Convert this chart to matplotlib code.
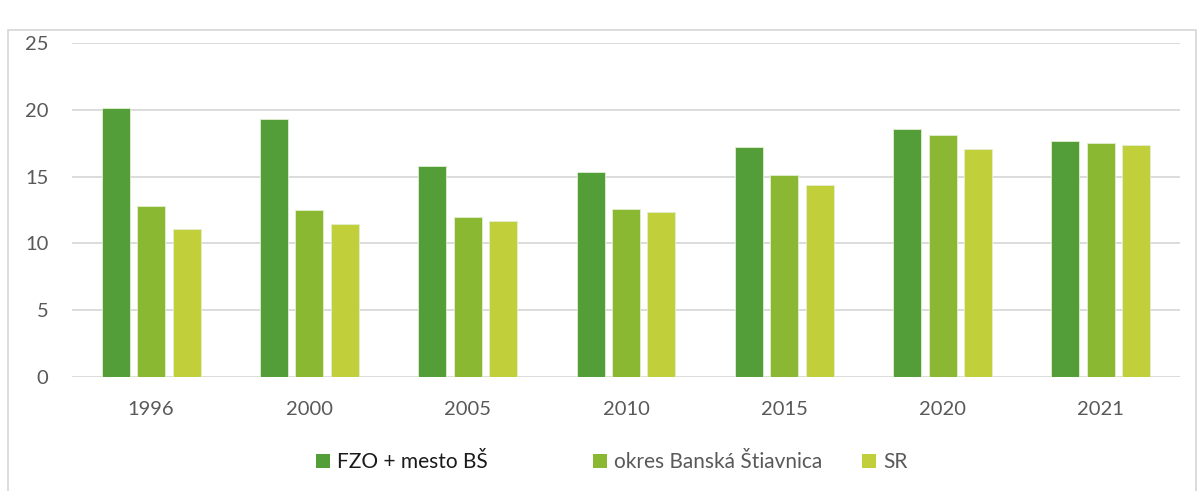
import matplotlib
matplotlib.use("Agg")
import matplotlib.pyplot as plt
from matplotlib.patches import Patch, Rectangle
import numpy as np

plt.rcParams['font.family'] = ['Lato', 'DejaVu Sans']

years = ["1996", "2000", "2005", "2010", "2015", "2020", "2021"]
series_names = ["FZO + mesto BŠ", "okres Banská Štiavnica", "SR"]
fzo = [20.1, 19.3, 15.8, 15.35, 17.2, 18.6, 17.65]
okres = [12.8, 12.5, 11.95, 12.6, 15.1, 18.1, 17.55]
sr = [11.05, 11.45, 11.7, 12.35, 14.4, 17.05, 17.35]
yticks = [0, 5, 10, 15, 20, 25]

colors = ["#549E39", "#8AB833", "#C0CF3A"]
text_gray = "#595959"

W, H = 1198, 491
fig = plt.figure(figsize=(W / 100, H / 100), dpi=100)
ax = fig.add_axes([72 / W, 1 - 377 / H, (1180 - 72) / W, (377 - 43) / H])

x = np.arange(len(years))
bw = 0.177
step = 0.224
for i, (vals, c) in enumerate(zip([fzo, okres, sr], colors)):
    ax.bar(x + (i - 1) * step, vals, width=bw, color=c, edgecolor="#E2EFD0",
           linewidth=0.6, zorder=3, label=series_names[i])

ax.set_xlim(-0.5, len(years) - 0.5)
ax.set_ylim(0, 25)
ax.set_yticks(yticks)
ax.set_xticks(x)
ax.set_xticklabels(years)
ax.yaxis.grid(True, color="#D9D9D9", linewidth=1.3, zorder=0)
ax.set_axisbelow(True)
for s in ax.spines.values():
    s.set_visible(False)
ax.tick_params(axis="both", length=0, labelsize=14.5, colors=text_gray)
ax.tick_params(axis="y", pad=17)
ax.tick_params(axis="x", pad=17)

# outer chart border
fig.patches.append(Rectangle((8 / W, -0.05), (1196 - 8) / W, 1 - 30 / H + 0.05,
                             transform=fig.transFigure, fill=False,
                             edgecolor="#D9D9D9", linewidth=1.3))

# legend entries placed individually
leg_x = [316 / W, 593 / W, 862 / W]
leg_colors_text = ["#1a1a1a", text_gray, text_gray]
for i in range(3):
    h = Patch(facecolor=colors[i], edgecolor="none")
    lg = fig.legend([h], [series_names[i]], loc="center left",
                    bbox_to_anchor=(leg_x[i], 1 - 462 / H), frameon=False,
                    fontsize=15, handlelength=0.68, handleheight=0.68,
                    handletextpad=0.35, borderpad=0, borderaxespad=0)
    for t in lg.get_texts():
        t.set_color(leg_colors_text[i])

fig.savefig("out.png", dpi=100)
